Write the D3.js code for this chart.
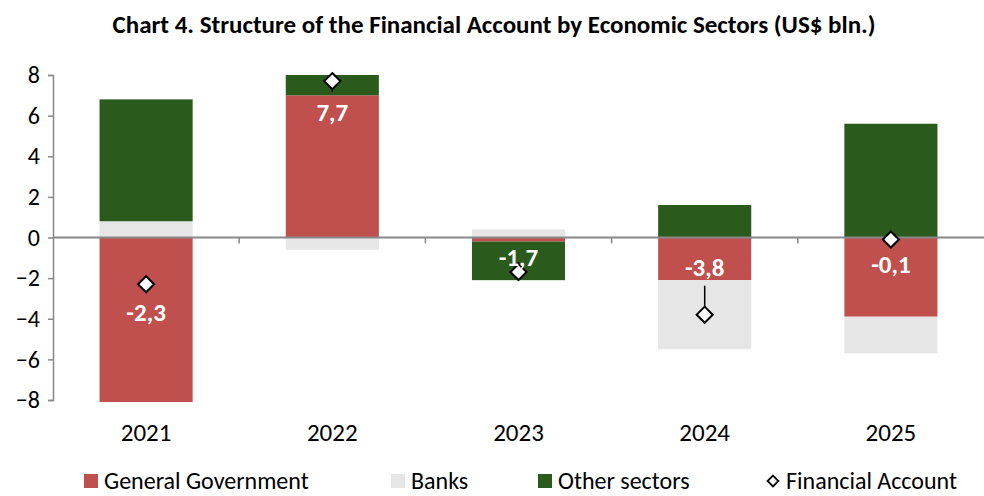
<!DOCTYPE html>
<html>
<head>
<meta charset="utf-8">
<script src="https://cdn.jsdelivr.net/npm/d3@7"></script>
<style>
  body { margin: 0; background: #fff; }
  text { font-family: Carlito, Calibri, Lato, "Noto Sans", sans-serif; }
</style>
</head>
<body>
<div class="chart"></div>
<script>
// data
const years = ["2021", "2022", "2023", "2024", "2025"];
const generalGov = [-8.1, 7.0, -0.2, -2.1, -3.9];
const banks = [0.8, -0.6, 0.4, -3.4, -1.8];
const otherSectors = [6.0, 1.0, -1.9, 1.6, 5.6];
const financialAccount = [-2.3, 7.7, -1.7, -3.8, -0.1];
const yTicks = [-8, -6, -4, -2, 0, 2, 4, 6, 8];
const seriesNames = ["General Government", "Banks", "Other sectors"];

const colors = ["#C0504D", "#E6E6E6", "#2A5A1C"];

const W = 984, H = 496;
const margin = {top: 75, right: 0, bottom: 96, left: 53};

const svg = d3.select(".chart").append("svg")
  .attr("width", W)
  .attr("height", H);

svg.append("text")
  .attr("x", 494)
  .attr("y", 33)
  .attr("text-anchor", "middle")
  .attr("font-weight", "bold")
  .attr("font-size", 25)
  .text("Chart 4. Structure of the Financial Account by Economic Sectors (US$ bln.)");

const xScale = d3.scaleBand()
  .domain(years)
  .range([margin.left, W - margin.right])
  .paddingInner(0.5)
  .paddingOuter(0.25);

const yScale = d3.scaleLinear()
  .domain([-8, 8])
  .range([H - margin.bottom, margin.top]);

const rows = years.map((y, i) => ({
  year: y, g: generalGov[i], b: banks[i], o: otherSectors[i]
}));

const stack = d3.stack()
  .keys(["g", "b", "o"])
  .offset(d3.stackOffsetDiverging);
const layers = stack(rows);

svg.selectAll("g.layer")
  .data(layers)
  .enter()
  .append("g")
  .attr("class", "layer")
  .attr("fill", (d, i) => colors[i])
  .selectAll("rect")
  .data(d => d)
  .enter()
  .append("rect")
  .attr("x", d => xScale(d.data.year))
  .attr("width", xScale.bandwidth())
  .attr("y", d => yScale(Math.max(d[0], d[1])))
  .attr("height", d => Math.abs(yScale(d[0]) - yScale(d[1])));

// y axis
const yAxis = d3.axisLeft(yScale)
  .tickValues(yTicks)
  .tickSize(5)
  .tickPadding(8)
  .tickFormat(d3.format("d"));

const yg = svg.append("g")
  .attr("transform", `translate(${margin.left},0)`)
  .call(yAxis);
yg.select(".domain").attr("stroke", "#888").attr("stroke-width", 1.5);
yg.selectAll(".tick line").attr("stroke", "#888").attr("stroke-width", 1.5);
yg.selectAll(".tick text")
  .attr("font-size", 24)
  .attr("fill", "#000")
  .style("font-family", "Carlito, Calibri, Lato, sans-serif");

// zero line with category ticks
svg.append("line")
  .attr("x1", margin.left)
  .attr("x2", W)
  .attr("y1", yScale(0))
  .attr("y2", yScale(0))
  .attr("stroke", "#888")
  .attr("stroke-width", 2);

svg.selectAll("line.cat")
  .data(years.slice(1))
  .enter()
  .append("line")
  .attr("class", "cat")
  .attr("x1", d => xScale(d) - xScale.bandwidth() / 2)
  .attr("x2", d => xScale(d) - xScale.bandwidth() / 2)
  .attr("y1", yScale(0))
  .attr("y2", yScale(0) + 6)
  .attr("stroke", "#888")
  .attr("stroke-width", 1.5);

// year labels at bottom
svg.selectAll("text.year")
  .data(years)
  .enter()
  .append("text")
  .attr("class", "year")
  .attr("x", d => xScale(d) + xScale.bandwidth() / 2)
  .attr("y", 441)
  .attr("text-anchor", "middle")
  .attr("font-size", 25)
  .text(d => d);

// data label offsets from the diamond (px), and leader line ends
const labelDy = [28, 31, -15, -47, 25];
const leaderTo = [null, 11, -10, -29, null];
const fmt = v => d3.format(".1f")(v).replace(".", ",").replace("−", "-");

const cx = i => xScale(years[i]) + xScale.bandwidth() / 2;

svg.selectAll("line.leader")
  .data(financialAccount.map((v, i) => ({v, i})).filter(d => leaderTo[d.i] !== null))
  .enter()
  .append("line")
  .attr("class", "leader")
  .attr("x1", d => cx(d.i))
  .attr("x2", d => cx(d.i))
  .attr("y1", d => yScale(d.v))
  .attr("y2", d => yScale(d.v) + leaderTo[d.i])
  .attr("stroke", "#000")
  .attr("stroke-width", 1.5);

svg.selectAll("path.diamond")
  .data(financialAccount)
  .enter()
  .append("path")
  .attr("class", "diamond")
  .attr("d", d3.symbol(d3.symbolDiamond2, 165))
  .attr("transform", (d, i) => `translate(${cx(i)},${yScale(d)})`)
  .attr("fill", "#fff")
  .attr("stroke", "#000")
  .attr("stroke-width", 2);

svg.selectAll("text.val")
  .data(financialAccount)
  .enter()
  .append("text")
  .attr("class", "val")
  .attr("x", (d, i) => cx(i))
  .attr("y", (d, i) => yScale(d) + labelDy[i])
  .attr("dy", "0.35em")
  .attr("text-anchor", "middle")
  .attr("font-size", 25)
  .attr("font-weight", "bold")
  .attr("fill", "#fff")
  .text(d => fmt(d));

// legend
const legendX = [84, 391, 538, 766];
const lg = svg.append("g");
seriesNames.forEach((name, i) => {
  lg.append("rect")
    .attr("x", legendX[i])
    .attr("y", 474)
    .attr("width", 14)
    .attr("height", 14)
    .attr("fill", colors[i]);
  lg.append("text")
    .attr("x", legendX[i] + 20)
    .attr("y", 481)
    .attr("dy", "0.35em")
    .attr("font-size", 24)
    .text(name);
});
lg.append("path")
  .attr("d", d3.symbol(d3.symbolDiamond2, 75))
  .attr("transform", `translate(${legendX[3] + 7},481)`)
  .attr("fill", "#fff")
  .attr("stroke", "#000")
  .attr("stroke-width", 1.8);
lg.append("text")
  .attr("x", legendX[3] + 20)
  .attr("y", 481)
  .attr("dy", "0.35em")
  .attr("font-size", 24)
  .text("Financial Account");
</script>
</body>
</html>
